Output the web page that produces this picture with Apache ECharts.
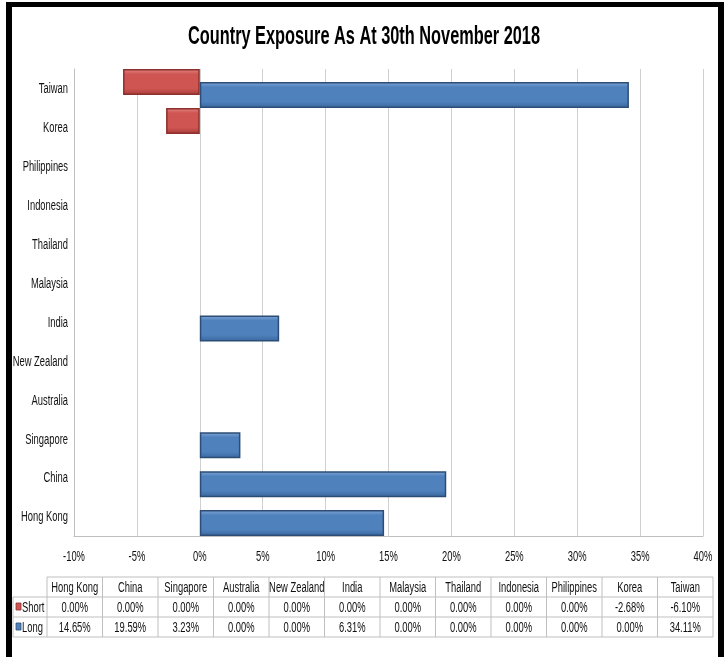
<!DOCTYPE html>
<html>
<head>
<meta charset="utf-8">
<script src="https://cdn.jsdelivr.net/npm/echarts@6/dist/echarts.min.js"></script>
<style>
  html, body { margin: 0; padding: 0; background: #fff; }
  #chart { width: 728px; height: 657px; }
</style>
</head>
<body>
<div id="chart"></div>
<script>
const categories = ['Hong Kong', 'China', 'Singapore', 'Australia', 'New Zealand', 'India',
  'Malaysia', 'Thailand', 'Indonesia', 'Philippines', 'Korea', 'Taiwan'];
const shortValues = [0, 0, 0, 0, 0, 0, 0, 0, 0, 0, -2.68, -6.10];
const longValues = [14.65, 19.59, 3.23, 0, 0, 6.31, 0, 0, 0, 0, 0, 34.11];
const xTicks = [-10, -5, 0, 5, 10, 15, 20, 25, 30, 35, 40];
const seriesNames = ['Short', 'Long'];
const seriesColors = ['#cf5552', '#4f81bd'];
const titleText = 'Country Exposure As At 30th November 2018';

const FONT = '"Liberation Sans", Arial, sans-serif';
const chart = echarts.init(document.getElementById('chart'));

// measure text so it can be squeezed like arial narrow
const ctx = document.createElement('canvas').getContext('2d');
function textWidth(t, font) {
  ctx.font = font;
  return ctx.measureText(t).width;
}

// bevel look like the excel bars
function bevel(base, light, dark) {
  return new echarts.graphic.LinearGradient(0, 0, 0, 1, [
    { offset: 0, color: light },
    { offset: 0.2, color: base },
    { offset: 0.75, color: base },
    { offset: 1, color: dark }
  ]);
}

const SQ = 0.67;
function narrowText(t, x, y, size, align) {
  return {
    type: 'text', x: x, y: y, scaleX: SQ,
    style: { text: t, font: size + 'px ' + FONT, fill: '#111', align: align, verticalAlign: 'middle' }
  };
}

// data table under the chart
function buildTable() {
  const els = [];
  const x0 = 47, colW = 55.5, keyX = 13;
  const rows = [577, 597, 617, 637];
  const lineCol = '#bfbfbf';
  const right = x0 + colW * categories.length;
  els.push({ type: 'line', shape: { x1: x0, y1: rows[0], x2: right, y2: rows[0] }, style: { stroke: lineCol, lineWidth: 1 } });
  for (let r = 1; r < rows.length; r++) {
    els.push({ type: 'line', shape: { x1: keyX, y1: rows[r], x2: right, y2: rows[r] }, style: { stroke: lineCol, lineWidth: 1 } });
  }
  els.push({ type: 'line', shape: { x1: keyX, y1: rows[1], x2: keyX, y2: rows[3] }, style: { stroke: lineCol, lineWidth: 1 } });
  for (let c = 0; c <= categories.length; c++) {
    const x = x0 + c * colW;
    els.push({ type: 'line', shape: { x1: x, y1: rows[0], x2: x, y2: rows[3] }, style: { stroke: lineCol, lineWidth: 1 } });
  }
  categories.forEach((c, i) => {
    const cx = x0 + i * colW + colW / 2;
    els.push(narrowText(c, cx, (rows[0] + rows[1]) / 2 + 1, 14, 'center'));
    els.push(narrowText(shortValues[i].toFixed(2) + '%', cx, (rows[1] + rows[2]) / 2 + 1, 14, 'center'));
    els.push(narrowText(longValues[i].toFixed(2) + '%', cx, (rows[2] + rows[3]) / 2 + 1, 14, 'center'));
  });
  seriesNames.forEach((n, i) => {
    const cy = (rows[i + 1] + rows[i + 2]) / 2;
    els.push({ type: 'rect', shape: { x: keyX + 3, y: cy - 4, width: 5, height: 7 }, style: { fill: seriesColors[i], stroke: i ? '#2c4d75' : '#8c2f2d', lineWidth: 0.8 } });
    els.push(narrowText(n, keyX + 9, cy + 1, 14, 'left'));
  });
  return els;
}

// title squeezed into the same width as the original
const titleFont = 'bold 25px ' + FONT;
const titleSqueeze = 352 / textWidth(titleText, titleFont);
const title = {
  type: 'text', x: 364, y: 37, scaleX: titleSqueeze,
  style: { text: titleText, font: titleFont, fill: '#000', align: 'center', verticalAlign: 'middle' }
};

// black frame round the picture
const frame = [
  { type: 'rect', shape: { x: 6, y: 2, width: 718, height: 5 }, style: { fill: '#000' } },
  { type: 'rect', shape: { x: 6, y: 2, width: 6, height: 655 }, style: { fill: '#000' } },
  { type: 'rect', shape: { x: 718, y: 2, width: 6, height: 655 }, style: { fill: '#000' } }
];

// zero values have no bar in the original
const hideZero = (v) => (v === 0 ? null : v);

const option = {
  backgroundColor: '#fff',
  animation: false,
  grid: { left: 74, right: 25, top: 69, bottom: 121, containLabel: false },
  xAxis: {
    type: 'value',
    min: -10, max: 40, interval: 5,
    axisLine: { show: true, lineStyle: { color: '#bfbfbf' } },
    axisTick: { show: false },
    axisLabel: { show: false },
    splitLine: { show: true, lineStyle: { color: '#d0d0d0' } }
  },
  yAxis: {
    type: 'category',
    data: categories,
    axisLine: { show: true, onZero: false, lineStyle: { color: '#bfbfbf' } },
    axisTick: { show: false },
    axisLabel: { show: false },
    splitLine: { show: false }
  },
  series: [
    {
      name: 'Short', type: 'bar', data: shortValues.map(hideZero),
      barWidth: 26, barGap: '-50%',
      itemStyle: { color: bevel('#cf5552', '#e28a88', '#a63c3a'), borderColor: '#8c2f2d', borderWidth: 1.5 }
    },
    {
      name: 'Long', type: 'bar', data: longValues.map(hideZero),
      barWidth: 26, barGap: '-50%',
      itemStyle: { color: bevel('#4f81bd', '#82a8d8', '#3a679e'), borderColor: '#2c4d75', borderWidth: 1.5 }
    }
  ],
  graphic: frame.concat([title], buildTable())
};
chart.setOption(option);

// axis labels in narrow text, placed by the chart's own scales
const axisLabels = [];
categories.forEach((c) => {
  const p = chart.convertToPixel({ gridIndex: 0 }, [-10, c]);
  axisLabels.push(narrowText(c, p[0] - 6, p[1] + 1, 14, 'right'));
});
xTicks.forEach((v) => {
  const p = chart.convertToPixel({ gridIndex: 0 }, [v, categories[0]]);
  axisLabels.push(narrowText(v + '%', p[0], 557, 14, 'center'));
});
chart.setOption({ graphic: option.graphic.concat(axisLabels) });
</script>
</body>
</html>
